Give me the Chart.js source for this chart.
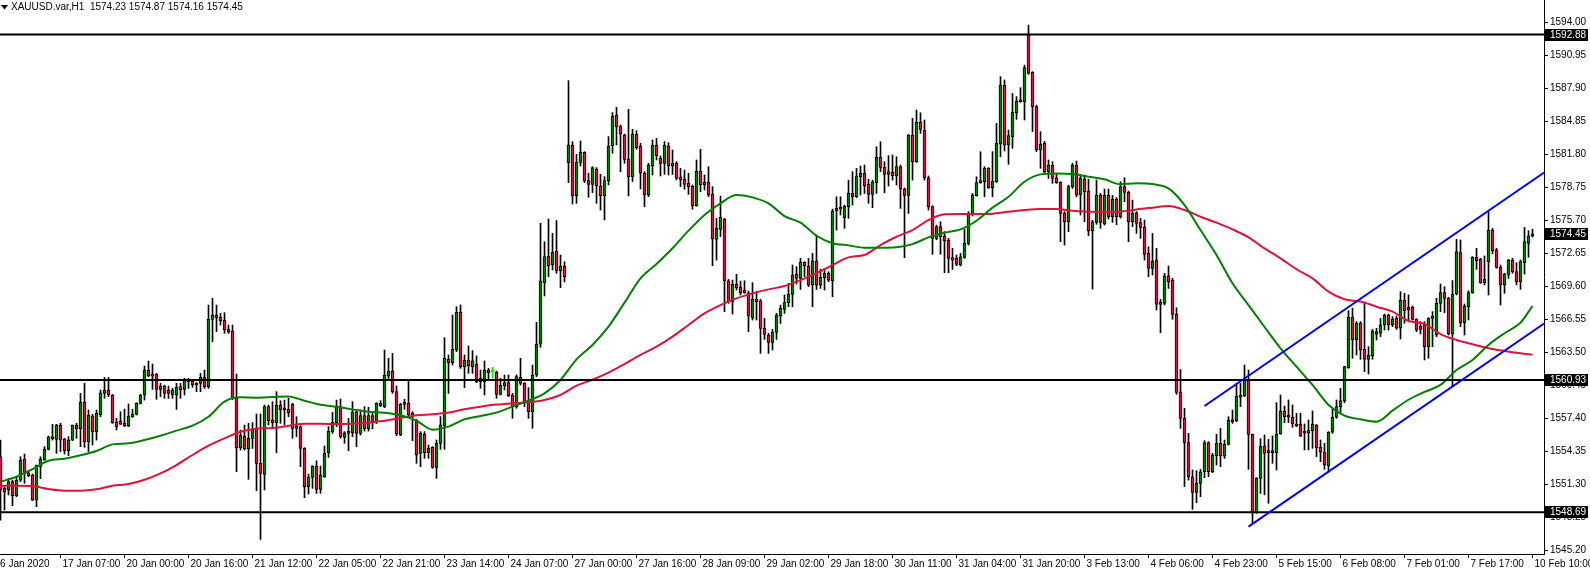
<!DOCTYPE html>
<html>
<head>
<meta charset="utf-8">
<title>XAUUSD.var,H1</title>
<script src="https://cdn.jsdelivr.net/npm/chart.js@4.4.1/dist/chart.umd.min.js"></script>
<style>
  html, body { margin: 0; padding: 0; background: #fff; }
  #wrap { width: 1590px; height: 571px; position: relative; }
</style>
</head>
<body>
<div id="wrap"><canvas id="myChart"></canvas></div>
<script>
// XAUUSD H1 candles, 16 Jan 2020 .. 10 Feb 2020 10:00
var opens = [
  1553.83,1550.90,1550.75,1551.52,1550.22,1551.67,1553.59,1552.35,1552.14,1549.82,
  1552.91,1553.52,1554.51,1555.62,1555.44,1556.76,1555.44,1554.39,1555.37,1556.76,
  1556.39,1558.86,1555.22,1557.60,1556.15,1557.69,1559.69,1560.00,1559.54,1557.01,
  1557.13,1556.92,1556.67,1557.53,1557.75,1558.77,1559.54,1561.85,1561.45,1561.45,
  1560.06,1560.37,1560.00,1559.54,1559.54,1560.31,1560.06,1560.77,1560.83,1560.62,
  1560.62,1561.17,1560.31,1566.54,1566.94,1566.72,1566.47,1565.61,1565.46,1559.23,
  1554.67,1555.74,1554.54,1555.53,1556.39,1553.22,1552.20,1558.46,1557.22,1556.98,
  1558.61,1558.21,1558.21,1558.67,1556.61,1556.61,1554.60,1551.06,1551.92,1552.97,
  1550.81,1551.98,1554.20,1556.15,1556.98,1558.46,1555.62,1556.08,1556.05,1557.99,
  1555.99,1557.63,1556.40,1557.63,1557.07,1558.55,1558.46,1561.29,1561.76,1559.85,
  1555.84,1558.67,1558.77,1557.84,1557.22,1554.14,1555.93,1554.21,1554.70,1552.85,
  1555.07,1556.67,1562.84,1562.53,1563.70,1567.19,1562.16,1562.78,1562.16,1562.41,
  1561.08,1560.77,1561.85,1561.70,1561.64,1559.60,1560.40,1560.68,1559.54,1558.46,
  1561.18,1560.62,1558.92,1558.00,1561.39,1564.23,1569.93,1572.40,1571.57,1572.86,
  1571.04,1571.47,1581.03,1582.67,1577.98,1581.06,1581.99,1579.37,1579.03,1580.45,
  1578.87,1577.98,1579.37,1582.57,1585.44,1584.36,1583.59,1581.37,1579.74,1583.68,
  1582.57,1580.05,1578.04,1580.72,1582.67,1581.43,1580.97,1582.57,1580.72,1580.97,
  1579.68,1579.52,1579.12,1578.87,1577.05,1580.26,1579.21,1579.21,1578.10,1573.94,
  1574.86,1575.82,1570.11,1568.17,1569.77,1569.50,1569.00,1569.00,1566.69,1568.39,
  1568.26,1565.70,1565.09,1564.41,1565.33,1566.84,1567.46,1568.08,1568.85,1570.70,
  1570.33,1571.81,1571.47,1569.71,1571.96,1569.71,1570.39,1570.79,1570.11,1576.56,
  1576.86,1575.94,1576.96,1578.19,1577.88,1579.73,1580.04,1579.05,1578.10,1579.18,
  1581.52,1580.60,1579.95,1580.13,1579.83,1580.66,1578.59,1578.00,1583.59,1581.12,
  1584.76,1584.05,1579.64,1576.96,1574.03,1575.11,1574.24,1573.87,1572.24,1572.18,
  1571.56,1572.27,1573.57,1576.34,1577.98,1579.18,1579.27,1580.51,1578.72,1579.27,
  1582.76,1588.21,1582.66,1583.44,1585.60,1586.67,1586.67,1592.90,1589.39,1586.21,
  1582.20,1582.82,1580.20,1580.81,1579.64,1579.21,1576.34,1575.57,1578.81,1580.81,
  1578.04,1579.52,1578.41,1574.71,1575.51,1578.04,1575.36,1578.04,1576.04,1577.67,
  1576.04,1578.81,1578.28,1575.57,1576.40,1575.48,1575.05,1572.64,1571.25,1572.02,
  1568.02,1568.02,1570.57,1570.17,1567.00,1559.84,1557.38,1555.13,1551.98,1550.53,
  1551.36,1552.44,1555.13,1552.44,1553.92,1555.07,1553.89,1554.97,1557.16,1557.16,
  1559.32,1559.44,1560.92,1555.90,1548.65,1551.83,1554.82,1554.39,1554.20,1554.20,
  1555.93,1558.06,1557.60,1557.48,1556.86,1556.86,1556.12,1556.00,1556.24,1556.77,
  1554.70,1554.24,1553.00,1556.09,1557.48,1558.46,1558.99,1562.07,1566.73,1564.63,
  1566.17,1563.77,1562.84,1563.15,1565.15,1565.25,1566.02,1566.94,1566.02,1566.63,
  1565.71,1568.33,1567.65,1567.65,1566.54,1565.92,1566.02,1564.01,1566.63,1565.09,
  1568.02,1569.01,1568.48,1565.18,1568.88,1572.71,1566.23,1567.71,1569.01,1572.28,
  1572.09,1569.93,1571.88,1574.80,1572.96,1571.35,1569.72,1570.70,1572.03,1570.95,
  1570.02,1571.78,1573.57,1574.23
];
var highs = [
  1555.37,1551.06,1551.83,1551.67,1551.98,1553.83,1554.08,1552.51,1552.23,1553.06,
  1553.83,1554.76,1555.74,1556.82,1556.82,1556.92,1555.53,1555.68,1556.76,1556.92,
  1559.69,1560.62,1558.15,1557.75,1558.15,1560.00,1561.17,1561.17,1559.60,1557.38,
  1557.99,1558.24,1558.70,1558.21,1558.83,1559.60,1562.22,1562.68,1562.40,1561.54,
  1560.62,1560.46,1560.37,1560.15,1560.62,1560.62,1561.08,1561.08,1560.92,1560.68,
  1561.54,1561.85,1567.86,1568.48,1567.86,1567.09,1567.15,1566.01,1566.01,1561.48,
  1556.30,1556.76,1556.92,1556.98,1557.78,1557.78,1558.61,1558.61,1558.92,1559.85,
  1559.01,1559.07,1559.23,1558.77,1557.53,1556.70,1554.67,1552.23,1553.00,1553.46,
  1552.97,1554.82,1556.61,1557.93,1559.07,1559.17,1556.15,1557.38,1558.92,1558.15,
  1558.15,1558.46,1558.40,1558.00,1558.83,1559.01,1563.70,1562.93,1563.39,1560.37,
  1558.77,1559.14,1560.92,1558.00,1557.29,1556.15,1556.15,1554.91,1554.76,1555.38,
  1557.54,1564.84,1563.24,1566.94,1567.71,1567.87,1563.24,1564.07,1563.64,1563.15,
  1561.85,1562.69,1562.01,1562.10,1561.75,1561.08,1561.39,1561.39,1559.69,1561.39,
  1562.93,1560.68,1560.22,1562.31,1566.26,1575.42,1573.72,1575.82,1574.50,1575.67,
  1572.49,1571.87,1588.62,1582.98,1581.80,1583.04,1582.05,1580.05,1580.66,1580.57,
  1579.95,1579.74,1583.44,1585.66,1586.15,1584.52,1583.68,1585.97,1584.12,1583.99,
  1582.82,1580.20,1580.97,1583.13,1583.28,1581.65,1582.98,1582.88,1582.20,1581.13,
  1580.51,1580.35,1580.05,1578.97,1581.28,1582.27,1579.89,1580.66,1578.81,1575.88,
  1577.94,1575.88,1570.23,1570.17,1570.70,1570.08,1570.11,1569.16,1569.93,1569.09,
  1568.39,1566.63,1565.24,1565.61,1567.09,1567.86,1568.79,1569.86,1571.56,1571.41,
  1572.18,1571.87,1572.18,1572.64,1574.34,1571.19,1571.25,1570.94,1576.74,1577.88,
  1577.88,1577.11,1579.42,1580.20,1580.50,1580.72,1580.81,1579.49,1579.42,1582.51,
  1582.97,1581.12,1581.68,1581.74,1581.58,1580.81,1578.70,1583.65,1585.13,1585.90,
  1585.65,1584.97,1579.80,1577.05,1575.26,1575.57,1574.65,1574.03,1573.10,1572.49,
  1572.64,1574.86,1576.50,1578.19,1579.73,1582.04,1580.66,1580.57,1582.05,1584.67,
  1588.99,1588.68,1584.05,1587.44,1587.14,1587.97,1590.06,1593.76,1589.45,1586.36,
  1583.90,1583.00,1581.28,1581.12,1579.95,1579.27,1576.50,1578.96,1580.97,1581.18,
  1579.95,1579.89,1579.49,1575.70,1579.43,1578.19,1578.59,1578.59,1578.00,1577.80,
  1579.27,1579.64,1578.40,1577.57,1576.50,1575.88,1575.72,1573.26,1574.49,1573.10,
  1568.39,1570.79,1571.47,1570.33,1567.61,1561.91,1558.30,1555.99,1552.60,1552.54,
  1552.66,1555.31,1555.22,1554.14,1555.90,1556.45,1555.37,1557.53,1558.15,1560.61,
  1560.61,1562.31,1561.85,1555.93,1551.90,1555.50,1555.84,1555.44,1555.75,1558.83,
  1559.54,1558.52,1559.08,1558.62,1557.85,1557.85,1556.86,1557.23,1558.06,1556.80,
  1555.38,1555.07,1556.15,1558.22,1559.08,1560.16,1562.20,1567.34,1567.56,1566.33,
  1566.33,1568.02,1564.01,1565.62,1565.71,1566.63,1567.03,1567.03,1566.79,1566.85,
  1569.10,1568.95,1568.80,1567.77,1566.60,1566.33,1566.33,1566.70,1567.25,1568.48,
  1569.81,1569.56,1568.58,1570.12,1573.94,1573.88,1567.96,1569.19,1572.34,1573.11,
  1572.18,1572.40,1576.50,1574.96,1573.11,1571.57,1570.80,1572.09,1572.18,1571.78,
  1572.03,1575.05,1574.74,1574.87
];
var lows = [
  1547.97,1548.90,1550.29,1549.30,1550.13,1551.52,1551.37,1551.98,1549.76,1549.21,
  1551.80,1553.52,1554.45,1555.37,1554.14,1554.30,1554.08,1553.93,1555.31,1555.53,
  1554.76,1554.70,1554.30,1554.91,1555.37,1557.53,1559.23,1559.38,1556.92,1556.30,
  1556.80,1556.61,1556.60,1557.47,1557.69,1558.70,1559.07,1561.23,1560.06,1559.14,
  1559.38,1559.23,1559.23,1559.23,1558.21,1559.23,1559.54,1560.15,1560.25,1559.85,
  1559.85,1560.15,1560.15,1564.47,1565.40,1566.01,1565.24,1565.24,1559.10,1552.44,
  1554.45,1554.45,1551.74,1554.60,1550.69,1546.18,1550.75,1556.76,1556.61,1554.20,
  1556.92,1556.76,1557.53,1555.53,1555.68,1552.91,1550.04,1550.38,1550.90,1550.44,
  1550.44,1551.92,1553.77,1555.99,1556.61,1555.53,1555.07,1554.39,1555.68,1554.76,
  1555.84,1556.20,1556.20,1556.40,1556.90,1558.46,1558.37,1560.92,1559.69,1555.77,
  1555.77,1558.21,1557.60,1555.31,1553.22,1552.91,1553.68,1553.68,1552.76,1551.83,
  1554.51,1554.51,1559.69,1562.31,1563.55,1562.00,1560.22,1561.54,1561.54,1560.68,
  1560.16,1559.54,1560.93,1561.08,1559.23,1559.54,1560.00,1559.39,1557.38,1558.31,
  1560.46,1558.46,1557.38,1556.46,1561.24,1563.95,1568.70,1570.49,1571.10,1570.80,
  1569.47,1570.00,1579.18,1577.21,1577.27,1580.72,1579.18,1577.83,1578.26,1577.27,
  1576.65,1575.73,1578.97,1581.90,1582.67,1580.20,1580.97,1577.95,1579.28,1582.27,
  1578.60,1576.96,1577.89,1579.89,1581.28,1579.80,1579.95,1579.89,1579.95,1579.43,
  1578.81,1578.57,1578.10,1576.72,1577.00,1578.35,1578.50,1577.89,1571.50,1572.02,
  1574.18,1567.24,1568.02,1567.03,1569.25,1568.79,1568.94,1565.39,1566.47,1566.47,
  1563.39,1564.68,1563.39,1563.70,1564.68,1566.16,1567.09,1567.71,1567.71,1569.80,
  1569.31,1570.48,1569.56,1567.71,1569.31,1569.40,1569.25,1570.02,1568.63,1574.80,
  1576.19,1574.95,1575.88,1577.11,1577.80,1578.04,1578.19,1577.27,1576.87,1578.19,
  1580.20,1578.25,1578.87,1579.42,1578.96,1576.80,1572.24,1576.34,1579.42,1581.06,
  1583.74,1579.42,1576.65,1572.55,1573.90,1572.55,1570.85,1570.85,1571.16,1571.50,
  1571.47,1572.18,1573.41,1576.10,1577.94,1579.12,1577.88,1578.65,1577.88,1579.20,
  1581.59,1582.11,1580.88,1582.36,1585.04,1586.61,1584.98,1589.20,1583.90,1582.05,
  1580.51,1580.00,1579.58,1579.12,1579.12,1573.72,1573.41,1574.65,1578.65,1577.88,
  1576.19,1575.57,1574.28,1569.34,1575.33,1574.96,1575.26,1575.82,1575.50,1575.30,
  1575.90,1577.42,1573.72,1575.11,1574.49,1574.03,1572.02,1570.48,1570.64,1567.40,
  1565.30,1567.86,1569.40,1566.54,1559.60,1556.45,1551.06,1551.67,1548.96,1549.58,
  1550.13,1551.89,1551.98,1552.35,1553.06,1552.91,1553.68,1554.91,1556.91,1557.07,
  1558.46,1559.38,1552.66,1547.66,1548.59,1550.44,1550.30,1549.52,1553.22,1552.60,
  1555.90,1556.98,1556.98,1556.55,1556.61,1555.69,1554.45,1554.45,1554.61,1553.84,
  1553.37,1552.67,1552.45,1555.99,1557.38,1557.85,1558.83,1562.01,1562.93,1563.24,
  1562.84,1561.70,1561.48,1562.84,1564.63,1564.94,1565.55,1565.55,1565.86,1565.62,
  1564.72,1566.17,1566.30,1566.48,1565.40,1565.18,1562.78,1562.93,1564.01,1564.94,
  1567.25,1567.16,1565.09,1560.31,1568.79,1565.86,1565.09,1566.48,1568.95,1571.17,
  1569.87,1569.72,1568.79,1572.59,1571.26,1567.87,1568.95,1570.33,1570.80,1569.72,
  1569.32,1570.73,1572.28,1574.16
];
var closes = [
  1550.75,1550.60,1551.52,1550.22,1551.67,1553.52,1552.23,1552.08,1549.82,1553.06,
  1553.62,1554.54,1555.68,1555.50,1556.76,1555.37,1554.39,1555.37,1556.76,1556.39,
  1558.86,1555.22,1557.69,1556.15,1557.84,1559.75,1560.00,1559.54,1556.98,1556.61,
  1556.85,1556.67,1557.60,1557.78,1558.77,1559.54,1561.85,1561.30,1561.29,1560.06,
  1560.37,1559.69,1559.69,1560.00,1560.25,1560.00,1560.92,1560.92,1560.46,1560.46,
  1561.17,1560.31,1566.54,1566.94,1566.69,1566.41,1565.55,1565.36,1559.23,1554.67,
  1555.84,1554.54,1555.53,1556.39,1553.22,1552.29,1558.46,1557.16,1556.98,1558.61,
  1558.15,1558.15,1557.90,1556.45,1556.45,1554.60,1551.06,1551.92,1552.97,1550.81,
  1552.14,1554.14,1556.18,1557.01,1558.46,1555.68,1556.05,1555.99,1557.99,1555.99,
  1557.63,1556.40,1557.63,1557.07,1558.77,1558.77,1561.39,1561.76,1559.85,1555.93,
  1558.67,1558.77,1557.69,1557.53,1553.99,1555.99,1554.21,1554.61,1552.85,1555.07,
  1556.77,1562.93,1562.53,1563.77,1567.19,1562.16,1562.78,1562.22,1562.69,1560.77,
  1560.77,1561.85,1561.60,1561.70,1559.60,1560.46,1560.68,1559.48,1558.46,1561.24,
  1560.62,1558.92,1558.00,1561.39,1564.23,1570.09,1572.34,1571.50,1572.74,1571.04,
  1571.47,1570.49,1582.67,1577.98,1581.06,1581.99,1579.37,1579.03,1580.57,1578.87,
  1577.98,1579.37,1582.57,1585.35,1584.36,1583.68,1581.34,1579.74,1583.68,1582.42,
  1580.05,1578.04,1580.82,1582.67,1581.68,1580.97,1582.67,1580.72,1580.97,1579.58,
  1579.43,1579.03,1578.81,1577.05,1580.26,1578.97,1578.97,1578.04,1573.97,1574.95,
  1575.97,1570.11,1568.17,1569.80,1569.46,1569.00,1569.25,1566.84,1568.39,1568.17,
  1565.70,1565.15,1564.41,1565.33,1566.94,1567.55,1568.08,1568.88,1570.64,1570.33,
  1571.81,1571.47,1569.71,1571.96,1569.71,1570.42,1570.79,1570.17,1576.56,1576.80,
  1576.74,1577.02,1578.19,1577.88,1579.80,1580.04,1578.90,1578.10,1579.27,1581.52,
  1580.60,1579.95,1580.20,1579.83,1580.66,1578.59,1578.00,1583.59,1581.12,1584.76,
  1584.11,1579.64,1576.96,1574.03,1575.11,1574.18,1573.81,1572.18,1572.02,1571.62,
  1572.33,1573.57,1576.34,1578.04,1579.18,1579.33,1580.51,1578.72,1579.33,1582.82,
  1588.21,1582.66,1583.53,1585.69,1586.73,1586.73,1589.82,1589.29,1586.21,1582.20,
  1582.73,1580.20,1580.81,1579.58,1579.18,1576.34,1575.57,1578.81,1580.81,1578.04,
  1579.58,1578.35,1574.71,1575.57,1578.04,1575.51,1578.04,1576.04,1577.67,1576.04,
  1578.81,1578.28,1575.57,1576.34,1575.42,1575.05,1572.55,1571.25,1571.93,1567.92,
  1567.92,1570.57,1570.02,1567.00,1559.78,1557.38,1555.13,1551.98,1550.53,1551.36,
  1552.44,1555.13,1552.44,1553.99,1555.07,1553.92,1555.00,1557.22,1557.07,1559.44,
  1559.44,1560.92,1555.90,1548.65,1551.83,1554.82,1554.14,1554.20,1554.39,1555.93,
  1558.06,1557.54,1557.48,1556.86,1556.67,1555.75,1556.00,1556.30,1556.86,1554.67,
  1554.24,1553.07,1556.09,1557.48,1558.46,1559.02,1562.16,1566.73,1564.63,1566.17,
  1563.70,1562.84,1563.24,1565.46,1565.40,1566.02,1566.94,1566.02,1566.57,1565.71,
  1568.33,1567.34,1567.40,1566.54,1565.55,1565.61,1564.01,1566.63,1566.79,1568.02,
  1569.01,1568.48,1565.18,1568.88,1572.80,1566.23,1567.77,1569.01,1572.28,1571.97,
  1569.93,1570.24,1574.80,1572.90,1571.35,1569.72,1570.73,1572.03,1570.95,1570.02,
  1571.88,1573.73,1574.25,1574.45
];

// moving averages, read every 4th bar (last point = last bar)
var maIdx = [
  0,4,8,12,16,20,24,28,32,36,40,44,48,52,56,60,64,68,72,76,80,84,88,92,96,100,
  104,108,112,116,120,124,128,132,136,140,144,148,152,156,160,164,168,172,176,180,
  184,188,192,196,200,204,208,212,216,220,224,228,232,236,240,244,248,252,256,260,
  264,268,272,276,280,284,288,292,296,300,304,308,312,316,320,324,328,332,336,340,
  344,348,352,356,360,364,368,372,376,380,383
];
var greenMA = [
  1551.52,1551.98,1552.69,1553.46,1553.65,1553.96,1554.36,1554.97,1555.07,1555.37,
  1555.77,1556.24,1556.70,1557.53,1558.92,1559.32,1559.29,1559.35,1559.41,1559.01,
  1558.64,1558.46,1558.21,1557.99,1557.90,1557.66,1557.16,1556.33,1556.61,1557.29,
  1557.60,1557.91,1558.46,1559.02,1559.69,1560.93,1562.84,1564.17,1565.86,1568.08,
  1570.33,1571.66,1573.11,1574.74,1576.20,1577.27,1578.04,1577.82,1577.27,1576.09,
  1575.48,1574.27,1573.57,1573.38,1573.16,1573.16,1573.20,1573.50,1574.12,1574.55,
  1574.86,1575.66,1576.87,1577.88,1579.27,1579.95,1580.04,1579.98,1579.73,1579.49,
  1579.03,1579.12,1579.05,1578.65,1577.11,1574.80,1572.49,1569.87,1567.86,1565.83,
  1563.86,1562.16,1560.47,1558.62,1557.63,1557.29,1557.07,1558.09,1559.10,1559.82,
  1560.47,1561.85,1562.78,1564.17,1565.25,1566.23,1567.77
];
var redMA = [
  1551.12,1551.15,1551.12,1550.84,1550.69,1550.69,1550.81,1551.15,1551.30,1551.70,
  1552.29,1553.06,1553.99,1554.85,1555.53,1556.14,1556.42,1556.48,1556.70,1556.88,
  1556.88,1556.85,1556.88,1556.98,1557.16,1557.41,1557.66,1557.75,1557.91,1558.22,
  1558.46,1558.65,1558.77,1558.86,1559.08,1559.54,1560.40,1560.95,1561.60,1562.40,
  1563.24,1564.01,1564.94,1566.02,1567.09,1567.86,1568.48,1568.94,1569.31,1569.62,
  1570.17,1570.79,1571.56,1572.27,1572.49,1573.41,1574.18,1574.80,1575.72,1576.25,
  1576.28,1576.28,1576.31,1576.50,1576.65,1576.74,1576.74,1576.59,1576.50,1576.44,
  1576.50,1576.71,1576.87,1577.02,1576.65,1576.03,1575.48,1574.86,1574.12,1573.10,
  1572.18,1571.17,1570.33,1569.10,1568.39,1568.18,1567.71,1567.25,1566.40,1566.11,
  1565.18,1564.63,1564.23,1563.86,1563.61,1563.40,1563.27
];

// horizontal levels and the channel (bar index, price)
var levels = [1592.88, 1560.93, 1548.69];
var priceTags = [1592.88, 1574.45, 1560.93, 1548.69];
var channelTop = [[301.0, 1558.52], [385.9, 1580.12]];
var channelBottom = [[312.0, 1547.36], [385.9, 1566.15]];

// axis labels
var timeTickIdx = [-2, 15, 31, 47, 63, 79, 95, 111, 127, 143, 159, 175, 191, 207,
  223, 239, 255, 271, 287, 303, 319, 335, 351, 367, 383];
var timeLabels = ["16 Jan 2020", "17 Jan 07:00", "20 Jan 00:00", "20 Jan 16:00",
  "21 Jan 12:00", "22 Jan 05:00", "22 Jan 21:00", "23 Jan 14:00", "24 Jan 07:00",
  "27 Jan 00:00", "27 Jan 16:00", "28 Jan 09:00", "29 Jan 02:00", "29 Jan 18:00",
  "30 Jan 11:00", "31 Jan 04:00", "31 Jan 20:00", "3 Feb 13:00", "4 Feb 06:00",
  "4 Feb 23:00", "5 Feb 15:00", "6 Feb 08:00", "7 Feb 01:00", "7 Feb 17:00",
  "10 Feb 10:00"];
var priceTicks = [1545.20, 1548.25, 1551.30, 1554.35, 1557.40, 1560.45, 1563.50,
  1566.55, 1569.60, 1572.65, 1575.70, 1578.75, 1581.80, 1584.85, 1587.90, 1590.95, 1594.00];

var X_MIN = -0.125, X_MAX = 385.875;
var Y_MIN = 1544.83, Y_MAX = 1596.08;
var FONT = "'Liberation Sans', Arial, sans-serif";

var last = closes.length - 1;
var titleText = "XAUUSD.var,H1  " + [opens[last], highs[last], lows[last], closes[last]]
  .map(function (v) { return v.toFixed(2); }).join(" ");

var idx = closes.map(function (c, i) { return i; });

function isDoji(i) { return opens[i] === closes[i]; }

function hLine(v) {
  return {
    type: "line", data: [{ x: X_MIN, y: v }, { x: X_MAX, y: v }],
    borderColor: "#000000", borderWidth: 2, pointRadius: 0, order: 1
  };
}
function segLine(p) {
  return {
    type: "line", data: p.map(function (q) { return { x: q[0], y: q[1] }; }),
    borderColor: "#0000ff", borderWidth: 2, pointRadius: 0, order: 0
  };
}

// black price tags on the axis plus the symbol line at the top
var overlay = {
  id: "overlay",
  afterDraw: function (chart) {
    var ctx = chart.ctx;
    var ys = chart.scales.y;
    ctx.save();
    ctx.fillStyle = "#000";
    ctx.beginPath();
    ctx.moveTo(1, 5); ctx.lineTo(8, 5); ctx.lineTo(4.5, 9.5); ctx.closePath();
    ctx.fill();
    ctx.font = "10px " + FONT;
    ctx.textBaseline = "alphabetic";
    ctx.fillText(titleText, 11, 10);
    priceTags.forEach(function (v) {
      var py = Math.round(ys.getPixelForValue(v));
      ctx.fillStyle = "#000";
      ctx.fillRect(1545, py - 6, 43, 12);
      ctx.fillStyle = "#fff";
      ctx.textBaseline = "middle";
      ctx.fillText(v.toFixed(2), 1550, py + 0.5);
    });
    ctx.restore();
  }
};

var datasets = [
  {
    label: "wick", type: "bar", grouped: false, order: 6,
    data: idx.map(function (i) { return { x: i, y: [lows[i], highs[i]] }; }),
    barThickness: 1, borderWidth: 0,
    backgroundColor: function (c) { return isDoji(c.dataIndex) ? "#00ff00" : "#000000"; }
  },
  {
    label: "body", type: "bar", grouped: false, order: 5,
    data: idx.map(function (i) { return { x: i, y: [opens[i], closes[i]] }; }),
    barThickness: 3, borderWidth: 1, borderSkipped: false, minBarLength: 2,
    borderColor: function (c) { return isDoji(c.dataIndex) ? "#00ff00" : "#000000"; },
    backgroundColor: function (c) {
      var i = c.dataIndex;
      if (closes[i] > opens[i]) return "#008000";
      if (closes[i] < opens[i]) return "#dc143c";
      return "#00ff00";
    }
  },
  {
    label: "MA red", type: "line", order: 3,
    data: maIdx.map(function (x, k) { return { x: x, y: redMA[k] }; }),
    borderColor: "#dc143c", borderWidth: 2, pointRadius: 0, cubicInterpolationMode: "monotone"
  },
  {
    label: "MA green", type: "line", order: 2,
    data: maIdx.map(function (x, k) { return { x: x, y: greenMA[k] }; }),
    borderColor: "#008000", borderWidth: 2, pointRadius: 0, cubicInterpolationMode: "monotone"
  }
];
levels.forEach(function (v) { datasets.push(hLine(v)); });
datasets.push(segLine(channelTop));
datasets.push(segLine(channelBottom));

var ctx = document.getElementById("myChart").getContext("2d");
var myChart = new Chart(ctx, {
  type: "bar",
  data: { datasets: datasets },
  options: {
    responsive: true,
    maintainAspectRatio: false,
    animation: false,
    layout: { padding: 0 },
    plugins: { legend: { display: false }, tooltip: { enabled: false } },
    scales: {
      x: {
        type: "linear", min: X_MIN, max: X_MAX, offset: false,
        afterBuildTicks: function (s) {
          s.ticks = timeTickIdx.map(function (v) { return { value: v }; });
        },
        afterFit: function (s) { s.height = 17; s.paddingLeft = 0; s.paddingRight = 0; },
        ticks: {
          autoSkip: false, maxRotation: 0, minRotation: 0, align: "start",
          labelOffset: 2, padding: 0, color: "#000",
          font: { family: FONT, size: 10 },
          callback: function (v, i) { return timeLabels[i]; }
        },
        grid: { drawOnChartArea: false, offset: false, tickLength: 4, color: "#000" },
        border: { display: true, color: "#000", width: 1 }
      },
      y: {
        type: "linear", position: "right", min: Y_MIN, max: Y_MAX,
        afterBuildTicks: function (s) {
          s.ticks = priceTicks.map(function (v) { return { value: v }; });
        },
        afterFit: function (s) { s.width = 46; s.paddingTop = 0; s.paddingBottom = 0; },
        ticks: {
          padding: 2, color: "#000",
          font: { family: FONT, size: 10 },
          callback: function (v) { return Number(v).toFixed(2); }
        },
        grid: { drawOnChartArea: false, tickLength: 4, color: "#000" },
        border: { display: true, color: "#000", width: 1 }
      }
    }
  },
  plugins: [overlay]
});
</script>
</body>
</html>
